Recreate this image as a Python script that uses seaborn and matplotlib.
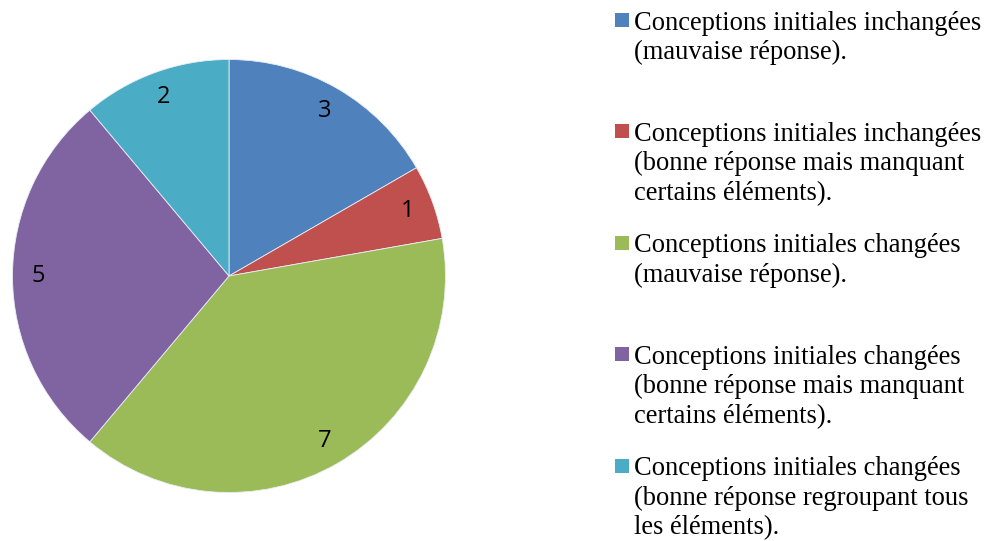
import matplotlib
matplotlib.use("Agg")
import matplotlib.pyplot as plt
import seaborn as sns
from matplotlib.patches import Rectangle

sns.set_theme(style="white")

categories = [
    "Conceptions initiales inchangées\n(mauvaise réponse).",
    "Conceptions initiales inchangées\n(bonne réponse mais manquant\ncertains éléments).",
    "Conceptions initiales changées\n(mauvaise réponse).",
    "Conceptions initiales changées\n(bonne réponse mais manquant\ncertains éléments).",
    "Conceptions initiales changées\n(bonne réponse regroupant tous\nles éléments).",
]
values = [3, 1, 7, 5, 2]
colors = ["#4F81BD", "#C0504D", "#9BBB59", "#8064A2", "#4BACC6"]

W, H = 989, 541
fig = plt.figure(figsize=(W / 100, H / 100), dpi=100)
fig.patch.set_facecolor("white")

cx, cy, r = 229, 276, 216.5
ax = fig.add_axes([(cx - r) / W, (H - cy - r) / H, 2 * r / W, 2 * r / H])
total = sum(values)
wedges, texts, autotexts = ax.pie(
    values,
    colors=colors,
    startangle=90,
    counterclock=False,
    radius=1,
    autopct=lambda p: f"{round(p * total / 100)}",
    pctdistance=0.88,
    wedgeprops=dict(linewidth=0.6, edgecolor="#e8eef5"),
    textprops=dict(fontsize=17, family="Open Sans", color="black"),
)
ax.set_xlim(-1, 1)
ax.set_ylim(-1, 1)
ax.set_aspect("equal")
ax.axis("off")

# Legend (manual layout to mimic Excel); y = baseline of first line, px from top
baselines = [29.5, 140.5, 252, 363.5, 475]
line_h = 29.7
for lab, col, yb in zip(categories, colors, baselines):
    sq = 14
    fig.patches.append(Rectangle((615 / W, 1 - (yb - 2.5) / H), sq / W, sq / H,
                                 transform=fig.transFigure, facecolor=col,
                                 edgecolor="none"))
    for i, line in enumerate(lab.split("\n")):
        fig.text(634 / W, 1 - (yb + i * line_h) / H, line, ha="left",
                 va="baseline", fontsize=19.1, family="Liberation Serif",
                 color="black")

fig.savefig("out.png", dpi=100, facecolor="white")
